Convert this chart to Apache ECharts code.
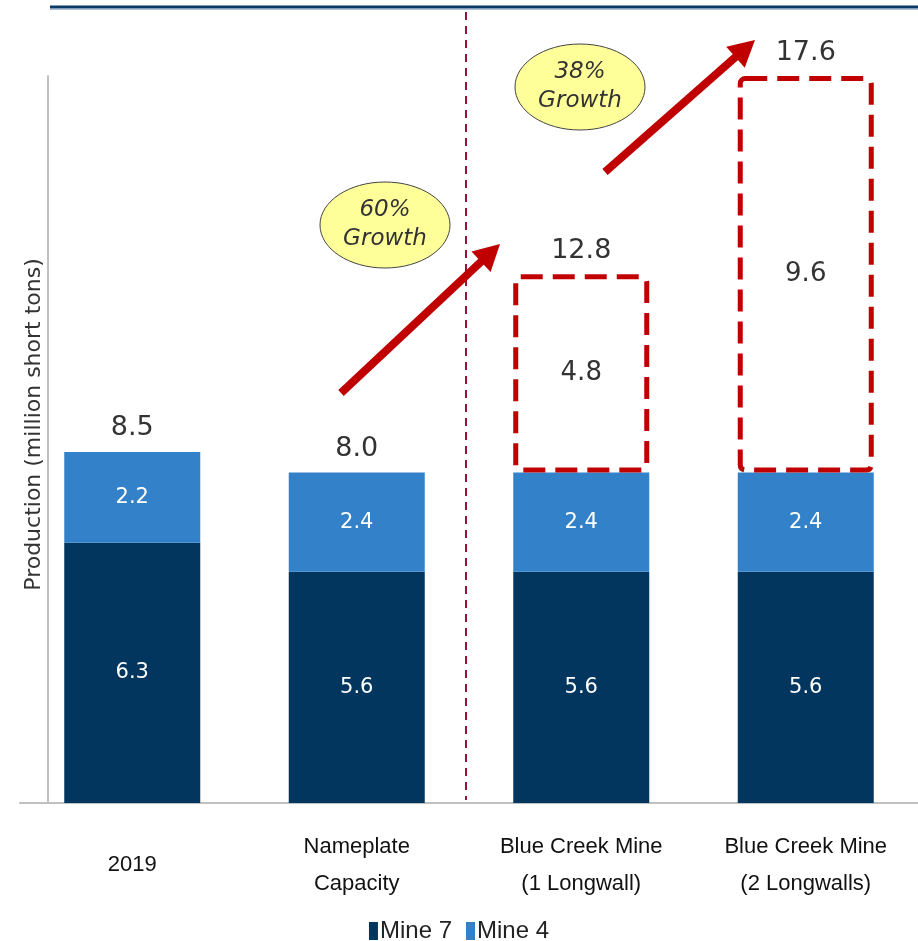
<!DOCTYPE html>
<html>
<head>
<meta charset="utf-8">
<script src="https://cdn.jsdelivr.net/npm/echarts@6/dist/echarts.min.js"></script>
<style>
html,body{margin:0;padding:0;background:#fff;}
#chart{width:918px;height:941px;}
</style>
</head>
<body>
<div id="chart"></div>
<script>
var categories = ['2019', 'Nameplate\nCapacity', 'Blue Creek Mine\n(1 Longwall)', 'Blue Creek Mine\n(2 Longwalls)'];
var mine7 = [6.3, 5.6, 5.6, 5.6];
var mine4 = [2.2, 2.4, 2.4, 2.4];
var expansion = [null, null, 4.8, 9.6];
var totals = [8.5, 8.0, 12.8, 17.6];
var growthNotes = ['60%\nGrowth', '38%\nGrowth'];

var chart = echarts.init(document.getElementById('chart'));
var numFont = 'DejaVu Sans';
var narrowFont = '"Liberation Sans Narrow", "Liberation Sans", Arial, sans-serif';

function arrow(x1, y1, x2, y2) {
  var dx = x2 - x1, dy = y2 - y1;
  var len = Math.sqrt(dx * dx + dy * dy);
  var ux = dx / len, uy = dy / len;
  var hl = 26, hw = 14;
  var bx = x2 - ux * hl, by = y2 - uy * hl;
  var px = -uy, py = ux;
  return [
    {type: 'line', shape: {x1: x1, y1: y1, x2: bx + ux * 2, y2: by + uy * 2}, style: {stroke: '#c00000', lineWidth: 8}, z: 100},
    {type: 'polygon', shape: {points: [[x2, y2], [bx + px * hw, by + py * hw], [bx - px * hw, by - py * hw]]}, style: {fill: '#c00000'}, z: 100}
  ];
}

function bubble(cx, cy, text) {
  return [
    {type: 'ellipse', shape: {cx: cx, cy: cy, rx: 65, ry: 43}, style: {fill: '#ffff99', stroke: '#444', lineWidth: 1}, z: 100},
    {type: 'text', x: cx, y: cy, style: {text: text, fill: '#333', font: 'italic 23px "DejaVu Sans"', align: 'center', verticalAlign: 'middle', lineHeight: 29}, z: 101}
  ];
}

var graphics = [
  {type: 'line', shape: {x1: 50, y1: 7, x2: 918, y2: 7}, style: {stroke: '#0b3a66', lineWidth: 3}},
  {type: 'line', shape: {x1: 50, y1: 9.5, x2: 918, y2: 9.5}, style: {stroke: '#a8bfd6', lineWidth: 1}},
  {type: 'line', shape: {x1: 466, y1: 12, x2: 466, y2: 800}, style: {stroke: '#9c1038', lineWidth: 2, lineDash: [8, 6]}}
].concat(arrow(341, 393, 500, 244))
 .concat(arrow(605, 172, 755, 40))
 .concat(bubble(385, 225, growthNotes[0]))
 .concat(bubble(580, 87, growthNotes[1]));

var option = {
  animation: false,
  backgroundColor: '#fff',
  grid: {left: 20, right: 0, top: 76, bottom: 138},
  legend: {
    data: ['Mine 7', 'Mine 4'],
    top: 914,
    left: 'center',
    icon: 'rect',
    itemWidth: 9,
    itemHeight: 18,
    itemGap: 14,
    textStyle: {fontFamily: narrowFont, fontSize: 24, color: '#222', padding: [0, 0, 0, -3]}
  },
  xAxis: {
    type: 'category',
    data: categories,
    axisLine: {show: true, lineStyle: {color: '#c0c0c0', width: 2}},
    axisTick: {show: false},
    axisLabel: {
      interval: 0,
      margin: 62,
      verticalAlign: 'middle',
      lineHeight: 37,
      fontFamily: narrowFont,
      fontSize: 22,
      color: '#111'
    }
  },
  yAxis: {
    type: 'value',
    min: 0,
    max: 'dataMax',
    offset: -28,
    name: 'Production (million short tons)',
    nameLocation: 'middle',
    nameGap: 3,
    nameTextStyle: {fontFamily: numFont, fontSize: 22, color: '#333', padding: [0, 0, 0, 30]},
    axisLine: {show: true, lineStyle: {color: '#c0c0c0', width: 2}},
    axisTick: {show: false},
    axisLabel: {show: false},
    splitLine: {show: false}
  },
  series: [
    {
      name: 'Mine 7', type: 'bar', stack: 'a', data: mine7, barWidth: 136,
      itemStyle: {color: '#02365f'},
      label: {show: true, position: 'inside', color: '#fff', fontFamily: numFont, fontSize: 21,
        formatter: function (p) { return p.value.toFixed(1); }}
    },
    {
      name: 'Mine 4', type: 'bar', stack: 'a', data: mine4, barWidth: 136,
      itemStyle: {color: '#3382c9'},
      label: {show: true, position: 'inside', color: '#fff', fontFamily: numFont, fontSize: 21,
        formatter: function (p) { return p.value.toFixed(1); }}
    },
    {
      name: 'Expansion', type: 'bar', stack: 'a', data: expansion, barWidth: 136,
      itemStyle: {color: 'rgba(255,255,255,0)', borderColor: '#c00000', borderWidth: 5, borderType: [22, 10], borderRadius: 5},
      label: {show: true, position: 'inside', color: '#333', fontFamily: numFont, fontSize: 26,
        formatter: function (p) { return p.value == null ? '' : p.value.toFixed(1); }}
    },
    {
      name: 'Total', type: 'bar', stack: 'a', data: [0, 0, 0, 0], barWidth: 136,
      itemStyle: {color: 'rgba(0,0,0,0)'},
      label: {show: true, position: 'top', distance: 10, color: '#333', fontFamily: numFont, fontSize: 27,
        formatter: function (p) { return totals[p.dataIndex].toFixed(1); }}
    }
  ],
  graphic: graphics
};
chart.setOption(option);
</script>
</body>
</html>
